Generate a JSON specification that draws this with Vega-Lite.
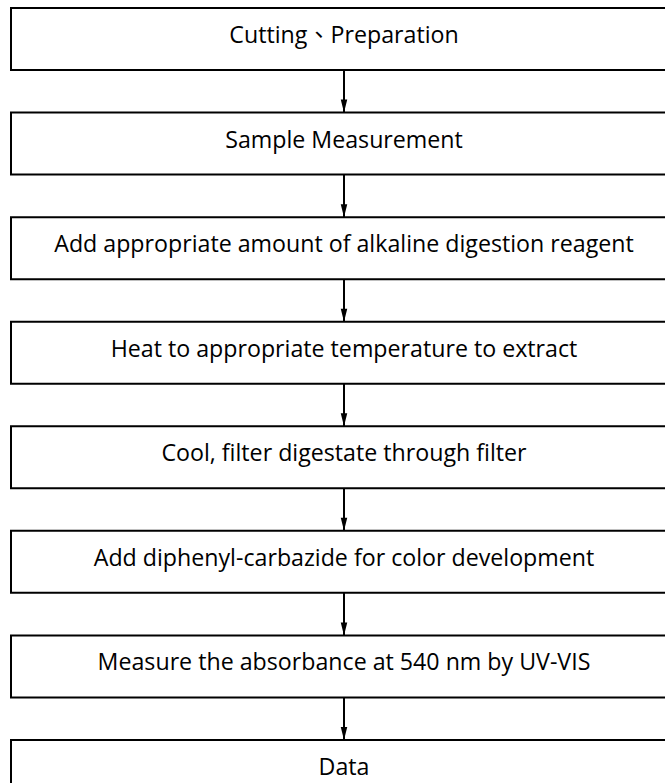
{
  "$schema": "https://vega.github.io/schema/vega-lite/v6.json",
  "autosize": "none",
  "width": 666,
  "height": 794,
  "padding": {"left": 11, "top": 8, "right": 0, "bottom": 0},
  "background": "white",
  "config": {"view": {"stroke": null}},
  "datasets": {
    "steps": [
      {"step": 1, "label": "Cutting、Preparation"},
      {"step": 2, "label": "Sample Measurement"},
      {"step": 3, "label": "Add appropriate amount of alkaline digestion reagent"},
      {"step": 4, "label": "Heat to appropriate temperature to extract"},
      {"step": 5, "label": "Cool, filter digestate through filter"},
      {"step": 6, "label": "Add diphenyl-carbazide for color development"},
      {"step": 7, "label": "Measure the absorbance at 540 nm by UV-VIS"},
      {"step": 8, "label": "Data"}
    ],
    "arrows": [
      {"from": 1, "to": 2},
      {"from": 2, "to": 3},
      {"from": 3, "to": 4},
      {"from": 4, "to": 5},
      {"from": 5, "to": 6},
      {"from": 6, "to": 7},
      {"from": 7, "to": 8}
    ]
  },
  "layer": [
    {
      "data": {"name": "steps"},
      "mark": {"type": "rect", "fill": "white", "stroke": "#000000", "strokeWidth": 2},
      "encoding": {
        "y": {"field": "step", "type": "ordinal", "axis": null, "scale": {"paddingInner": 0.407, "paddingOuter": 0}},
        "x": {"datum": 0, "type": "quantitative", "axis": null, "scale": {"domain": [0, 1]}},
        "x2": {"datum": 1}
      }
    },
    {
      "data": {"name": "arrows"},
      "mark": {"type": "rule", "color": "#000000", "strokeWidth": 2},
      "encoding": {
        "y": {"field": "from", "type": "ordinal", "bandPosition": 1},
        "y2": {"field": "to", "bandPosition": 0},
        "x": {"datum": 0.5, "type": "quantitative"}
      }
    },
    {
      "data": {"name": "arrows"},
      "mark": {"type": "point", "filled": true, "color": "#000000", "opacity": 1, "size": 169, "shape": "M-0.5,-1L0.5,-1L0,1Z", "yOffset": -6.5},
      "encoding": {
        "y": {"field": "to", "type": "ordinal", "bandPosition": 0},
        "x": {"datum": 0.5, "type": "quantitative"}
      }
    },
    {
      "data": {"name": "steps"},
      "mark": {"type": "text", "font": "Open Sans, Noto Sans CJK TC", "fontSize": 23.2, "color": "#000000", "baseline": "alphabetic", "align": "center", "dy": 4},
      "encoding": {
        "y": {"field": "step", "type": "ordinal", "bandPosition": 0.5},
        "x": {"datum": 0.5, "type": "quantitative"},
        "text": {"field": "label"}
      }
    }
  ]
}
